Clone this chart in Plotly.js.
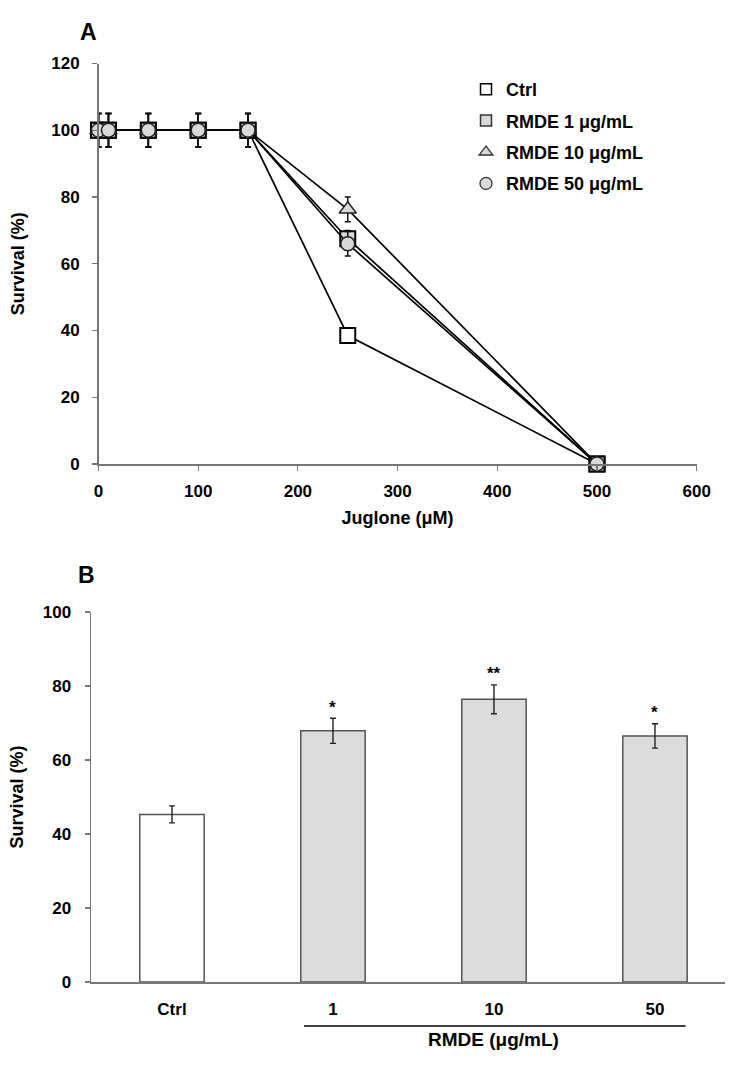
<!DOCTYPE html>
<html>
<head>
<meta charset="utf-8">
<script src="https://cdn.plot.ly/plotly-3.0.1.min.js"></script>
<style>html,body{margin:0;padding:0;background:#fff;}#chart{width:739px;height:1068px;}</style>
</head>
<body>
<div id="chart"></div>
<script>
// ---- Panel A data ----
const juglone = [0, 10, 50, 100, 150, 250, 500];
const survCtrlA = [100, 100, 100, 100, 100, 38.5, 0];
const survRm1A = [100, 100, 100, 100, 100, 67.5, 0];
const survRm10A = [100, 100, 100, 100, 100, 76.3, 0];
const survRm50A = [100, 100, 100, 100, 100, 66.0, 0];
const errCtrlA = [5, 5, 5, 5, 5, 0, 0];
const errRm1A = [5, 5, 5, 5, 5, 2.5, 0];
const errRm10A = [5, 5, 5, 5, 5, 3.7, 0];
const errRm50A = [5, 5, 5, 5, 5, 3.7, 0];
const seriesNamesA = ['Ctrl', 'RMDE 1 \u03bcg/mL', 'RMDE 10 \u03bcg/mL', 'RMDE 50 \u03bcg/mL'];
const xTicksA = [0, 100, 200, 300, 400, 500, 600];
const yTicksA = [0, 20, 40, 60, 80, 100, 120];

// ---- Panel B data ----
const groupsB = ['Ctrl', '1', '10', '50'];
const survB = [45.3, 67.9, 76.4, 66.5];
const errB = [2.3, 3.4, 3.9, 3.3];
const sigB = ['', '*', '**', '*'];
const yTicksB = [0, 20, 40, 60, 80, 100];

const FONT = 'Liberation Sans, Arial, sans-serif';
const W = 739, H = 1068;
const px = v => v / W;
const py = v => 1 - v / H;

const lineStyle = {color: '#000', width: 1.7};
const errStyle = (arr) => ({type: 'data', array: arr, visible: true, color: '#111', thickness: 1.5, width: 3});

const markerStyles = [
  {symbol: 'square', size: 15, color: '#ffffff', line: {color: '#000', width: 2}},
  {symbol: 'square', size: 15, color: '#d9d9d9', line: {color: '#000', width: 2}},
  {symbol: 'triangle-up', size: 15, color: '#d9d9d9', line: {color: '#222', width: 1.5}},
  {symbol: 'circle', size: 14, color: '#d9d9d9', line: {color: '#222', width: 1.5}}
];
const legendMarkers = [
  {symbol: 'square', size: 11, color: '#ffffff', line: {color: '#000', width: 1.5}},
  {symbol: 'square', size: 11, color: '#d9d9d9', line: {color: '#333', width: 1.5}},
  {symbol: 'triangle-up', size: 12, color: '#d9d9d9', line: {color: '#333', width: 1.3}},
  {symbol: 'circle', size: 12, color: '#d9d9d9', line: {color: '#333', width: 1.3}}
];

const ysA = [survCtrlA, survRm1A, survRm10A, survRm50A];
const errsA = [errCtrlA, errRm1A, errRm10A, errRm50A];

const traces = [];
ysA.forEach((ys, i) => {
  traces.push({
    type: 'scatter', mode: 'lines+markers', x: juglone, y: ys,
    xaxis: 'x', yaxis: 'y', name: seriesNamesA[i], showlegend: false,
    line: lineStyle, marker: markerStyles[i], error_y: errStyle(errsA[i]),
    cliponaxis: false, hoverinfo: 'x+y'
  });
});
// legend entries (marker only)
seriesNamesA.forEach((n, i) => {
  traces.push({
    type: 'scatter', mode: 'markers', x: [null], y: [null], xaxis: 'x', yaxis: 'y',
    name: n, legendgroup: 'g' + i, showlegend: true, marker: legendMarkers[i]
  });
});

// Panel B bars
traces.push({
  type: 'bar', x: groupsB, y: survB, xaxis: 'x2', yaxis: 'y2', width: 0.4,
  showlegend: false,
  marker: {color: ['#ffffff', '#dcdcdc', '#dcdcdc', '#dcdcdc'], line: {color: '#555', width: 1.5}},
  error_y: {type: 'data', array: errB, visible: true, color: '#222', thickness: 1.4, width: 3}
});

const tickFont = {family: FONT, size: 17, color: '#000', weight: 'bold'};
const titleFont = {family: FONT, size: 18, color: '#000', weight: 'bold'};

const annotations = [
  {text: 'A', x: px(78), y: py(17), xref: 'paper', yref: 'paper', showarrow: false,
   font: {family: FONT, size: 23, weight: 'bold', color: '#000'}},
  {text: 'B', x: px(76), y: py(575), xref: 'paper', yref: 'paper', showarrow: false,
   font: {family: FONT, size: 23, weight: 'bold', color: '#000'}},
  {text: 'RMDE (\u03bcg/mL)', x: 2, xref: 'x2', y: py(1052), yref: 'paper', showarrow: false,
   font: {family: FONT, size: 19, weight: 'bold', color: '#000'}}
];
groupsB.forEach((g, i) => {
  if (sigB[i]) {
    annotations.push({text: sigB[i], x: i, y: survB[i] + errB[i], xref: 'x2', yref: 'y2',
      showarrow: false, yshift: 11, font: {family: FONT, size: 17, weight: 'bold', color: '#000'}});
  }
});

const layout = {
  width: W, height: H,
  margin: {l: 0, r: 0, t: 0, b: 0},
  paper_bgcolor: '#fff', plot_bgcolor: 'rgba(0,0,0,0)',
  font: {family: FONT, color: '#000'},
  showlegend: true,
  legend: {x: px(466), y: py(71), xanchor: 'left', yanchor: 'top',
    font: {family: FONT, size: 18, weight: 'bold', color: '#000'},
    bgcolor: 'rgba(0,0,0,0)', tracegroupgap: 5, traceorder: 'grouped', itemwidth: 30},
  xaxis: {domain: [px(98.5), px(696.7)], range: [0, 600], anchor: 'y',
    tickvals: xTicksA, ticks: 'outside', ticklen: 5, tickcolor: '#777', tickwidth: 1.2,
    showline: true, linecolor: '#777', linewidth: 1.5, showgrid: false, zeroline: false,
    tickfont: tickFont, ticklabelstandoff: 6,
    title: {text: 'Juglone (\u03bcM)', font: titleFont, standoff: 11}},
  yaxis: {domain: [py(464), py(63.5)], range: [0, 120], anchor: 'x',
    tickvals: yTicksA, ticks: 'outside', ticklen: 5, tickcolor: '#777', tickwidth: 1.2,
    showline: true, linecolor: '#777', linewidth: 1.5, showgrid: false, zeroline: false,
    tickfont: tickFont, ticklabelstandoff: 9,
    title: {text: 'Survival (%)', font: titleFont, standoff: 22}},
  xaxis2: {domain: [px(91), px(725)], range: [-0.503, 3.435], anchor: 'y2', type: 'category',
    ticks: '', showline: true, linecolor: '#777', linewidth: 1.5, showgrid: false, zeroline: false,
    tickfont: tickFont, ticklabelstandoff: 11},
  yaxis2: {domain: [py(982), py(612)], range: [0, 100], anchor: 'x2',
    tickvals: yTicksB, ticks: 'outside', ticklen: 5, tickcolor: '#777', tickwidth: 1.2,
    showline: true, linecolor: '#777', linewidth: 1.5, showgrid: false, zeroline: false,
    tickfont: tickFont, ticklabelstandoff: 10,
    title: {text: 'Survival (%)', font: titleFont, standoff: 14}},
  shapes: [
    {type: 'line', xref: 'x2', yref: 'paper', x0: 0.82, x1: 3.19, y0: py(1026), y1: py(1026),
     line: {color: '#000', width: 1.3}}
  ],
  annotations: annotations
};

Plotly.newPlot('chart', traces, layout, {displayModeBar: false, staticPlot: true});
</script>
</body>
</html>
